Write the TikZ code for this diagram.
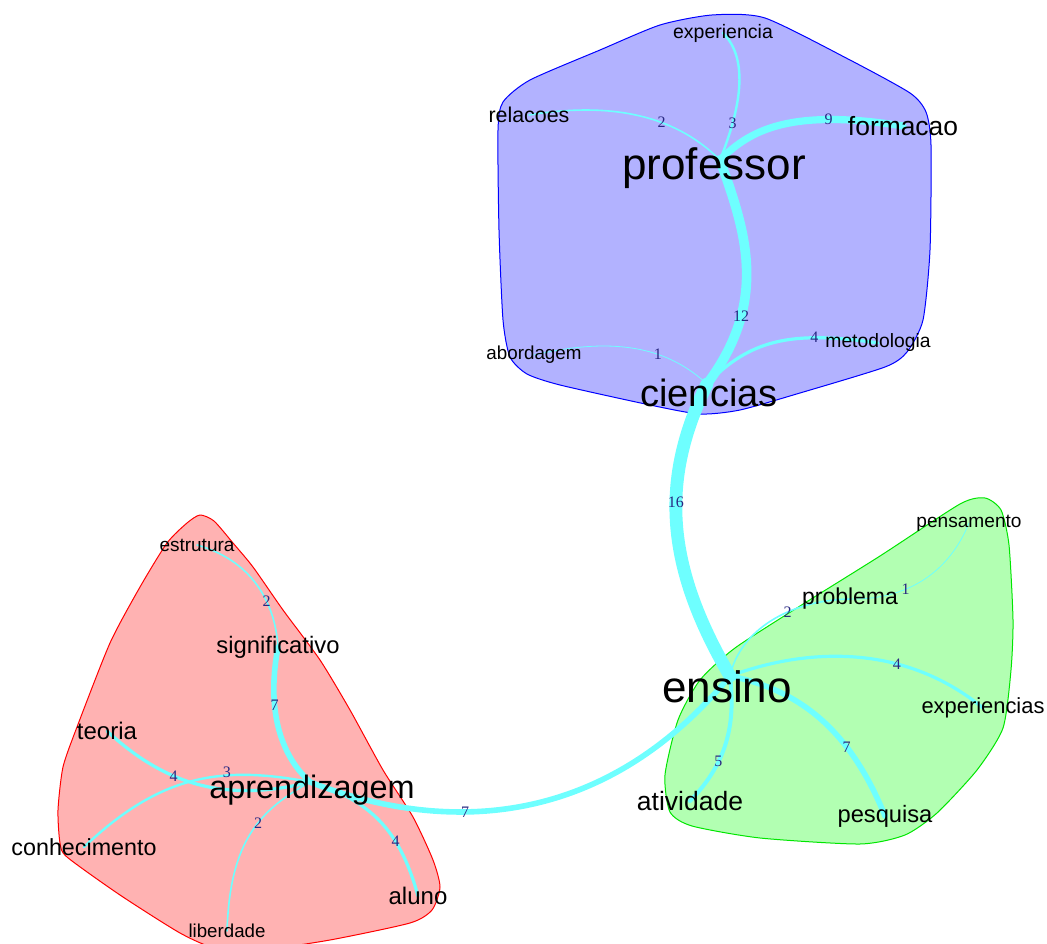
\documentclass[tikz,border=0pt]{standalone}
\usepackage{fontspec}
\setmainfont{Liberation Sans}
\newfontfamily\pesofont{Liberation Serif}
\pgfdeclarelayer{fundo}
\pgfdeclarelayer{arestas}
\pgfsetlayers{fundo,arestas,main}

\begin{document}
\begin{tikzpicture}[x=1pt, y=-1pt,
    termo/.style={inner sep=0pt, font=\fontsize{#1}{#1}\selectfont},
    grupo/.style={line width=1pt, line join=round},
    aresta/.style={draw=ciano, line width={#1*0.8pt}, line cap=round},
    rotulo/.style={text=azulrot, inner sep=0pt, font=\pesofont\fontsize{16}{16}\selectfont},
  ]
  \definecolor{ciano}{RGB}{110,255,255}
  \definecolor{azulrot}{RGB}{40,40,130}
  \definecolor{azul}{RGB}{0,0,255}
  \definecolor{azulclaro}{RGB}{178,178,255}
  \definecolor{verde}{RGB}{0,230,0}
  \definecolor{verdeclaro}{RGB}{178,255,178}
  \definecolor{vermelho}{RGB}{255,0,0}
  \definecolor{vermelhoclaro}{RGB}{255,178,178}

  \useasboundingbox (0,0) rectangle (1047,944);

  % ---------------- termos -----------------------------------------
  \node[termo=44] (professor) at (714,168) {professor};
  \node[termo=38] (ciencias) at (709,393) {ciencias};
  \node[termo=44] (ensino) at (727,687) {ensino};
  \node[termo=32.4] (aprendizagem) at (312,790) {aprendizagem};
  \node[termo=19.5] (experiencia) at (723,33) {experiencia};
  \node[termo=21.4] (relacoes) at (529,115) {relacoes};
  \node[termo=26.4] (formacao) at (903,126) {formacao};
  \node[termo=18.8] (abordagem) at (534,355) {abordagem};
  \node[termo=19.3] (metodologia) at (878,343) {metodologia};
  \node[termo=19.1] (pensamento) at (969,523) {pensamento};
  \node[termo=23] (problema) at (850,599) {problema};
  \node[termo=21.9] (experiencias) at (983,708) {experiencias};
  \node[termo=26.5] (atividade) at (690,801) {atividade};
  \node[termo=23.7] (pesquisa) at (885,816) {pesquisa};
  \node[termo=19] (estrutura) at (197,545) {estrutura};
  \node[termo=23.8] (significativo) at (278,647) {significativo};
  \node[termo=24] (teoria) at (107,731) {teoria};
  \node[termo=23.3] (conhecimento) at (84,847) {conhecimento};
  \node[termo=24] (aluno) at (418,896) {aluno};
  \node[termo=18.7] (liberdade) at (227,931) {liberdade};

  % vertices dos termos grandes
  \coordinate (vprofessor) at ([shift={(6,-8)}]professor.center);
  \coordinate (vciencias) at ([shift={(-2,-9)}]ciencias.center);
  \coordinate (vensino) at ([shift={(3,-11)}]ensino.center);
  \coordinate (vaprendizagem) at ([shift={(-2,-8)}]aprendizagem.center);

  % ---------------- grupos -----------------------------------------
  \begin{pgfonlayer}{fundo}
    \filldraw[grupo, draw=azul, fill=azulclaro] plot[smooth cycle, tension=0.4] coordinates {
      (498,130) (503,102) (530,80) (600,50) (660,25) (712,15) (765,18) (850,60)
      (910,93) (926,112) (931,145) (930,250) (923,320) (907,352) (885,367)
      (800,393) (740,410) (700,414) (650,405) (560,385) (527,374) (510,357)
      (503,320) (499,230)};
    \filldraw[grupo, draw=verde, fill=verdeclaro] plot[smooth cycle, tension=0.4] coordinates {
      (960,504) (985,498) (1001,510) (1009,545) (1013,620) (1011,670) (1003,728)
      (977,770) (937,813) (905,835) (860,844) (760,838) (692,826) (670,812)
      (665,775) (678,720) (700,680) (735,648) (800,606) (880,556)};
    \filldraw[grupo, draw=vermelho, fill=vermelhoclaro] plot[smooth cycle, tension=0.4] coordinates {
      (200,515) (214,521) (233,543) (253,567) (283,610) (320,660) (350,710)
      (383,770) (413,817) (433,860) (440,887) (432,910) (410,923) (330,940)
      (260,950) (215,948) (180,933) (120,895) (67,857) (60,843) (58,810)
      (63,767) (77,727) (110,643) (140,587) (167,543) (187,523)};
  \end{pgfonlayer}

  % ---------------- arestas ----------------------------------------
  \begin{pgfonlayer}{arestas}
    % professor / ciencias
    \draw[aresta=9] (vprofessor) .. controls (750,130) and (790,108) .. (formacao.center)
      node[rotulo, pos=0.74] {9};
    \draw[aresta=3] (vprofessor) .. controls (740,110) and (750,60) .. (experiencia.center)
      node[rotulo, pos=0.25] {3};
    \draw[aresta=2] (vprofessor) .. controls (680,120) and (620,100) .. (relacoes.center)
      node[rotulo, pos=0.4] {2};
    \draw[aresta=12] (vprofessor) .. controls (745,230) and (770,300) .. (vciencias)
      node[rotulo, pos=0.72] {12};
    \draw[aresta=1] (vciencias) .. controls (670,350) and (620,335) .. (abordagem.center)
      node[rotulo, pos=0.38] {1};
    \draw[aresta=4] (vciencias) .. controls (750,340) and (790,330) .. (metodologia.center)
      node[rotulo, pos=0.72] {4};
    \draw[aresta=16] (vciencias) .. controls (660,480) and (665,565) .. (vensino)
      node[rotulo, pos=0.42] {16};
    % ensino
    \draw[aresta=2] (vensino) .. controls (740,630) and (790,600) .. (problema.center)
      node[rotulo, pos=0.62] {2};
    \draw[aresta=1] (problema.center) .. controls (910,600) and (950,570) .. (pensamento.center)
      node[rotulo, pos=0.35] {1};
    \draw[aresta=4] (vensino) .. controls (800,650) and (900,640) .. (experiencias.center)
      node[rotulo, pos=0.67] {4};
    \draw[aresta=7] (vensino) .. controls (800,690) and (850,730) .. (pesquisa.center)
      node[rotulo, pos=0.68] {7};
    \draw[aresta=5] (vensino) .. controls (735,720) and (730,760) .. (atividade.center)
      node[rotulo, pos=0.68] {5};
    % aprendizagem
    \draw[aresta=7] (vaprendizagem) .. controls (420,825) and (590,845) .. (vensino)
      node[rotulo, pos=0.4] {7};
    \draw[aresta=7] (vaprendizagem) .. controls (275,750) and (268,700) .. (significativo.center)
      node[rotulo, pos=0.62] {7};
    \draw[aresta=2] (significativo.center) .. controls (275,600) and (250,560) .. (estrutura.center)
      node[rotulo, pos=0.35] {2};
    \draw[aresta=4] (vaprendizagem) .. controls (220,805) and (160,780) .. (teoria.center)
      node[rotulo, pos=0.61] {4};
    \draw[aresta=3] (vaprendizagem) .. controls (220,765) and (160,775) .. (conhecimento.center)
      node[rotulo, pos=0.34, yshift=3pt] {3};
    \draw[aresta=2] (vaprendizagem) .. controls (260,810) and (230,840) .. (liberdade.center)
      node[rotulo, pos=0.42] {2};
    \draw[aresta=4] (vaprendizagem) .. controls (370,800) and (400,830) .. (aluno.center)
      node[rotulo, pos=0.67] {4};
  \end{pgfonlayer}
\end{tikzpicture}
\end{document}
